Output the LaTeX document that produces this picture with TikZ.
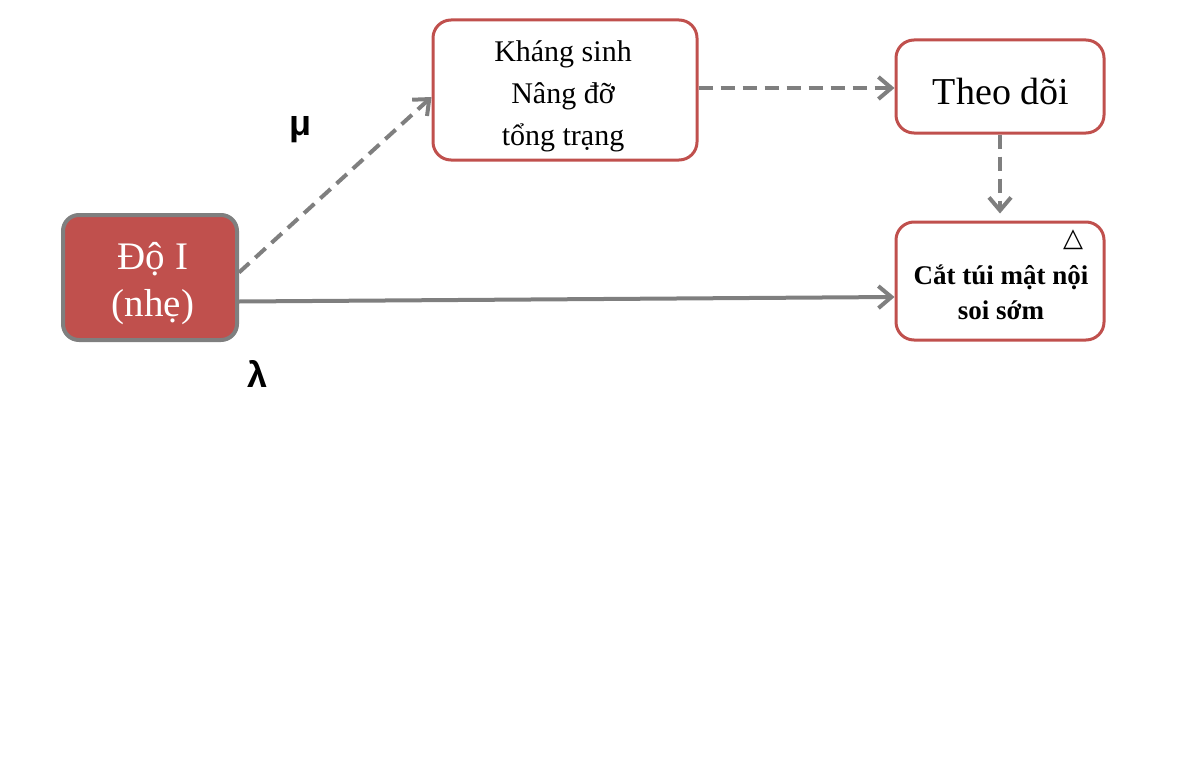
\documentclass[tikz,border=0pt]{standalone}
\usepackage{fontspec}
\setmainfont{Liberation Serif}
\newfontfamily\labelsans{Liberation Sans}
\newfontfamily\symfont{DejaVu Sans}
\usetikzlibrary{arrows.meta}
\definecolor{boxred}{HTML}{C0504D}
\definecolor{linegray}{HTML}{7F7F7F}
\tikzset{
  redbox/.style={draw=boxred, line width=3pt, fill=white, rounded corners=18pt, inner sep=0pt},
  startbox/.style={draw=linegray, line width=4pt, fill=boxred, rounded corners=16pt, inner sep=0pt},
  boxtext/.style={align=center, inner sep=0pt},
  conn/.style={draw=linegray, line width=4pt, -{Straight Barb[length=13pt,width=22pt]}},
  dashconn/.style={conn, dash pattern=on 14pt off 8pt},
  greek/.style={font=\labelsans\bfseries\fontsize{36}{40}\selectfont, text=black}
}
\begin{document}
\begin{tikzpicture}[x=1pt,y=-1pt]
\useasboundingbox (0,0) rectangle (1182,768);
\node[startbox, minimum width=174pt, minimum height=125pt] (d) at (150,277.5) {};
\node[boxtext, text=white, font=\fontsize{39}{47}\selectfont] (dt) at (153,284) {Độ I\\(nhẹ)};
\node[redbox, minimum width=264pt, minimum height=140pt] (k) at (565,90) {};
\node[boxtext, font=\fontsize{30}{42}\selectfont] (kt) at (563,96) {Kháng sinh\\Nâng đỡ\\tổng trạng};
\node[redbox, minimum width=208pt, minimum height=93pt] (t) at (1000,86.5) {};
\node[boxtext, font=\fontsize{38}{44}\selectfont] (tt) at (1001,92) {Theo dõi};
\node[redbox, minimum width=208pt, minimum height=118pt] (c) at (1000,281) {};
\node[boxtext, font=\bfseries\fontsize{27}{35}\selectfont] (ct) at (1001,292) {Cắt túi mật nội\\soi sớm};
\node[font=\symfont\fontsize{26}{26}\selectfont, inner sep=0pt] (tri) at (1073,240) {△};
\node[greek] (mu) at (301,130) {μ};
\node[greek] (la) at (258,374) {λ};
\draw[dashconn] ([yshift=5pt]d.east) -- ([yshift=-7pt]k.west);
\draw[dashconn] ([yshift=2pt]k.east) -- ([yshift=-1.5pt]t.west);
\draw[dashconn, shorten >=7pt] (t.south) -- (c.north);
\draw[conn] ([yshift=-24pt]d.east) -- ([yshift=-16pt]c.west);
\end{tikzpicture}
\end{document}
